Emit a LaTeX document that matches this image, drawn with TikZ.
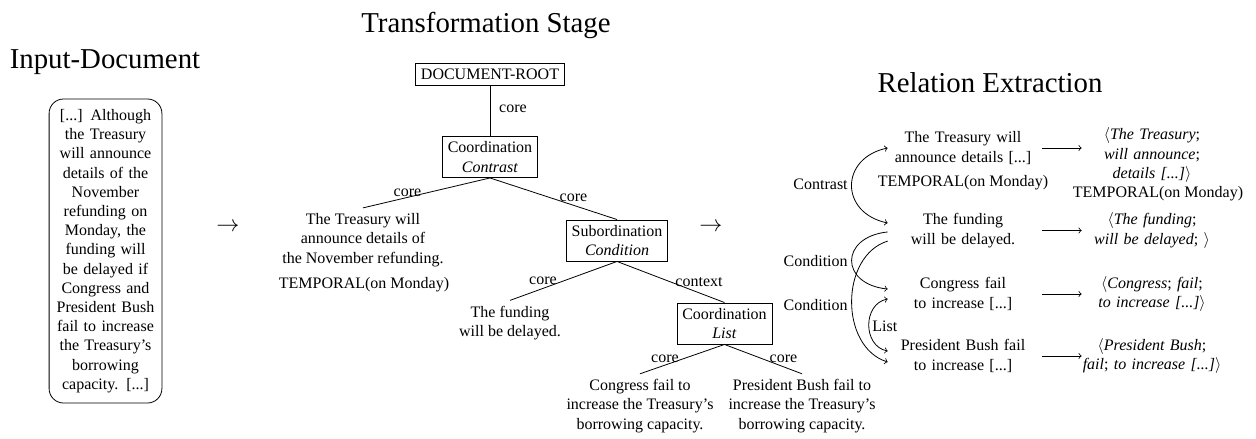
\documentclass[tikz,border=0pt]{standalone}
\usepackage{fontspec}
\setmainfont{Liberation Serif}
\usetikzlibrary{calc}
\begin{document}
\begin{tikzpicture}[x=0.625pt,y=-0.625pt,
  txt/.style={font=\fontsize{10}{12}\selectfont, align=center},
  box/.style={txt, draw, line width=0.5pt, inner sep=3.33pt},
  lab/.style={font=\fontsize{10}{12}\selectfont, inner sep=0pt},
  mid/.style={txt, text width=93.75pt, inner xsep=0pt},
  tup/.style={txt, text width=87.5pt, inner xsep=0pt},
  heading/.style={font=\fontsize{18}{21}\selectfont, anchor=base, inner sep=0pt},
  stagearrow/.style={font=\fontsize{15.6}{18}\selectfont, inner sep=0pt},
  edge/.style={line width=0.5pt},
  rel/.style={->, line width=0.5pt}]
\useasboundingbox (0,0) rectangle (1256,439);

% headings
\node[heading] (h1) at (105,68) {Input-Document};
\node[heading] (h2) at (486,32) {Transformation Stage};
\node[heading] (h3) at (990,92) {Relation Extraction};

% input document
\node[txt, draw, line width=0.5pt, rounded corners=9pt, text width=62.5pt,
      inner xsep=4pt, minimum height=190pt] (doc) at (105.5,251)
  {[...]  Although\\the Treasury\\will announce\\details of the\\November\\refunding on\\Monday, the\\funding will\\be delayed if\\Congress and\\President Bush\\fail to increase\\the Treasury's\\borrowing\\capacity.  [...]};

\node[stagearrow] (sa1) at (228,227) {$\rightarrow$};
\node[stagearrow] (sa2) at (711,227) {$\rightarrow$};

% tree
\node[box, minimum height=13.75pt] (root) at (490,74) {DOCUMENT-ROOT};
\node[box] (c1) at (490,157) {Coordination\\\textit{Contrast}};
\node[box] (sub) at (617,240.5) {Subordination\\\textit{Condition}};
\node[box] (lst) at (724.5,323.5) {Coordination\\\textit{List}};

\node[txt] (la) at (363,240) {The Treasury will\\announce details of\\the November refunding.};
\node[txt] (lat) at (364,285) {TEMPORAL(on Monday)};
\node[txt] (lf) at (510,323) {The funding\\will be delayed.};
\node[txt] (lc) at (640,406) {Congress fail to\\increase the Treasury's\\borrowing capacity.};
\node[txt] (ld) at (802,406) {President Bush fail to\\increase the Treasury's\\borrowing capacity.};

\draw[edge] (root.south) -- (c1.north);
\draw[edge] (c1.south) -- (la.north);
\draw[edge] (c1.south) -- (sub.north);
\draw[edge] (sub.south) -- (lf.north);
\draw[edge] (sub.south) -- (lst.north);
\draw[edge] (lst.south) -- (lc.north);
\draw[edge] (lst.south) -- (ld.north);

\node[lab] (e1) at (513,109) {core};
\node[lab] (e2) at (407.5,193) {core};
\node[lab] (e3) at (573.5,198) {core};
\node[lab] (e4) at (543,281) {core};
\node[lab] (e5) at (699,282) {context};
\node[lab] (e6) at (665,359) {core};
\node[lab] (e7) at (783.5,359) {core};

% relation extraction
\node[mid] (m1) at (963,148) {The Treasury will\\announce details [...]};
\node[txt] (mt) at (963,183) {TEMPORAL(on Monday)};
\node[mid] (m2) at (963,230.5) {The funding\\will be delayed.};
\node[mid] (m3) at (963,294) {Congress fail\\to increase [...]};
\node[mid] (m4) at (963,356) {President Bush fail\\to increase [...]};

\node[tup] (t1) at (1152,155) {$\langle$\textit{The Treasury};\\\textit{will announce};\\\textit{details [...]}$\rangle$};
\node[txt] (tt) at (1158,194) {TEMPORAL(on Monday)};
\node[tup] (t2) at (1152,230.5) {$\langle$\textit{The funding};\\\textit{will be delayed}; $\rangle$};
\node[tup] (t3) at (1152,294) {$\langle$\textit{Congress}; \textit{fail};\\\textit{to increase [...]}$\rangle$};
\node[tup] (t4) at (1152,356) {$\langle$\textit{President Bush};\\\textit{fail}; \textit{to increase [...]}$\rangle$};

\draw[rel] ([xshift=2.5pt]m1.east) -- (m1.east -| t1.west);
\draw[rel] ([xshift=2.5pt]m2.east) -- (m2.east -| t2.west);
\draw[rel] ([xshift=2.5pt]m3.east) -- (m3.east -| t3.west);
\draw[rel] ([xshift=2.5pt]m4.east) -- (m4.east -| t4.west);

\draw[rel,<->] (m1.west) .. controls +(-48,10) and +(-48,-10) .. ([yshift=4.7pt]m2.west);
\draw[rel] ([yshift=-0.9pt]m2.west) .. controls +(-48,5) and +(-48,-5) .. ([yshift=3.1pt]m3.west);
\draw[rel] ([yshift=-6.6pt]m2.west) .. controls +(-48,15) and +(-48,-15) .. ([yshift=-3.75pt]m4.west);
\draw[rel,<->] ([yshift=-3.1pt]m3.west) .. controls +(-25,5) and +(-25,-5) .. ([yshift=3.1pt]m4.west);

\node[lab, anchor=east] (rc) at (848,184) {Contrast};
\node[lab, anchor=east] (rd1) at (848,261) {Condition};
\node[lab, anchor=east] (rd2) at (848,305) {Condition};
\node[lab, anchor=west] (rl) at (872,326) {List};
\end{tikzpicture}
\end{document}
